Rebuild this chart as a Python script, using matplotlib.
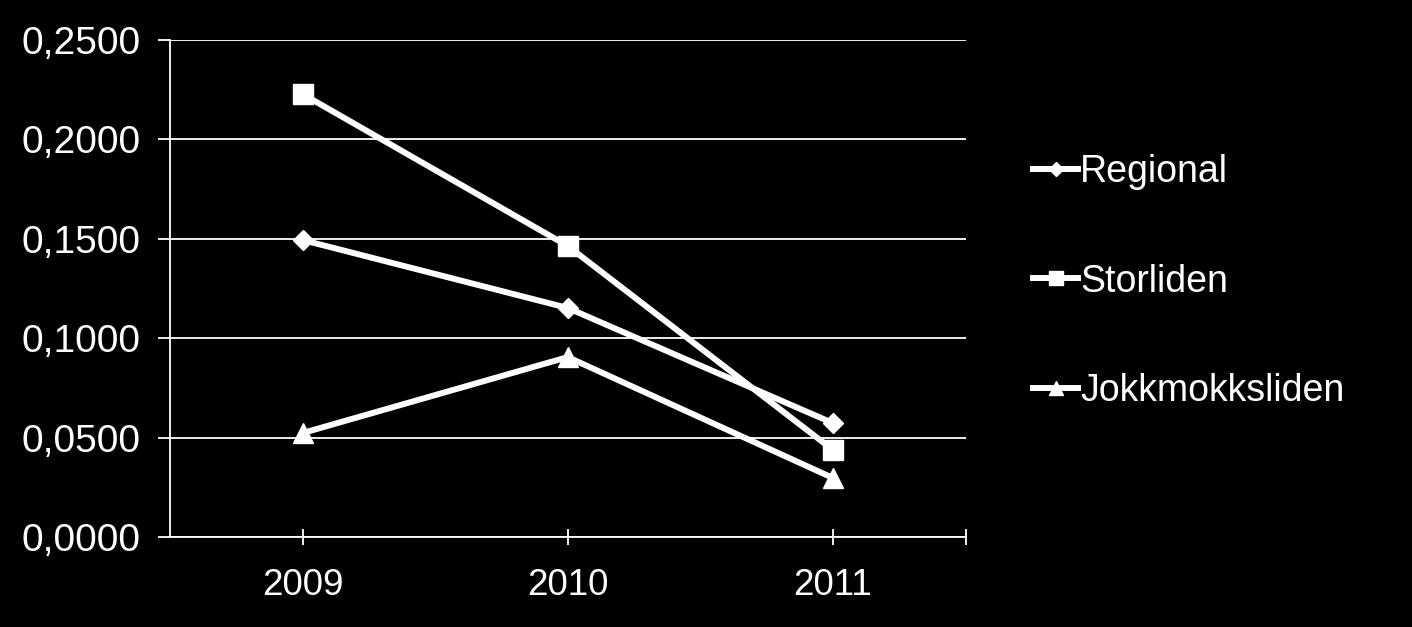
import numpy as np
import matplotlib.pyplot as plt

plt.rcParams['font.family'] = ['Liberation Sans', 'DejaVu Sans']

years = ['2009', '2010', '2011']
regional = [0.1494, 0.1152, 0.0573]
storliden = [0.2228, 0.1464, 0.0438]
jokkmokksliden = [0.0523, 0.0905, 0.0297]
yticks = [0.0, 0.05, 0.10, 0.15, 0.20, 0.25]

fig = plt.figure(figsize=(14.12, 6.27), dpi=100, facecolor='black')
ax = fig.add_axes([0.1204, 0.1435, 0.5634, 0.7927], facecolor='black')

x = np.arange(len(years))
ax.plot(x, regional, color='white', lw=4.3, marker='D', ms=10, label='Regional', zorder=3)
ax.plot(x, storliden, color='white', lw=4.3, marker='s', ms=14, label='Storliden', zorder=3)
ax.plot(x, jokkmokksliden, color='white', lw=4.3, marker='^', ms=14, label='Jokkmokksliden', zorder=3)

ax.set_xlim(-0.5, 2.5)
ax.set_ylim(0, 0.25)
ax.set_yticks(yticks)
ax.set_yticklabels([('%.4f' % v).replace('.', ',') for v in yticks])
ax.set_xticks(list(x) + [2.5])
ax.set_xticklabels(years + [''])
ax.yaxis.grid(True, color='white', lw=1.3)
ax.set_axisbelow(True)

for s in ['top', 'right']:
    ax.spines[s].set_visible(False)
for s in ['left', 'bottom']:
    ax.spines[s].set_color('white')
    ax.spines[s].set_linewidth(1.3)

ax.tick_params(axis='y', colors='white', labelsize=28, length=9, width=1.3, pad=12)
ax.tick_params(axis='x', colors='white', labelsize=26.5, length=12, width=1.3, direction='inout', pad=16)

leg = ax.legend(loc='upper left', bbox_to_anchor=(1.066, 0.80), frameon=False, fontsize=27,
                labelspacing=1.95, handlelength=1.2, handletextpad=0.05, markerscale=0.7,
                borderaxespad=0)
for t in leg.get_texts():
    t.set_color('white')

fig.savefig('out.png', dpi=100, facecolor='black')
